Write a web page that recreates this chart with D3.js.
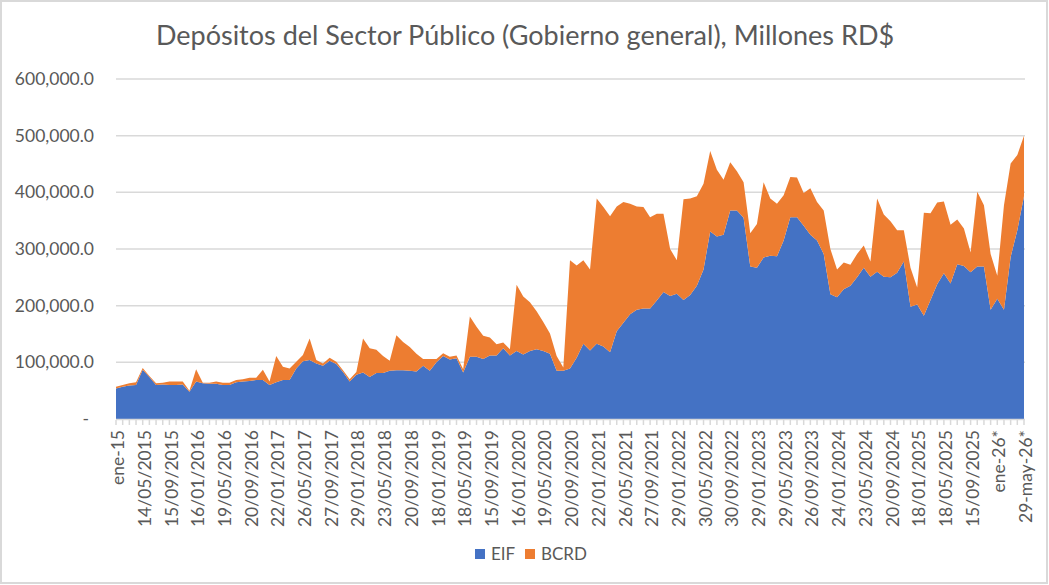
<!DOCTYPE html>
<html>
<head>
<meta charset="utf-8">
<script src="https://cdn.jsdelivr.net/npm/d3@7"></script>
<style>
  body { margin: 0; background: #fff; }
  text { font-family: Lato, "Open Sans", sans-serif; fill: #595959; }
</style>
</head>
<body>
<svg id="chart"></svg>
<script>
// Monthly series, ene-2015 .. may-2026 (values in thousands of millones RD$)
const eif = [
  54, 57, 59, 60, 87, 74, 60, 61, 60, 60, 61, 48, 66, 63, 62, 62, 60, 60, 65, 66,
  67, 69, 69, 60, 65, 69, 69, 89, 102, 104, 98, 94, 103, 97, 83, 66, 78, 82, 74, 81,
  81, 85, 86, 86, 85, 84, 94, 85, 100, 111, 105, 107, 82, 110, 110, 106, 112, 112, 125, 112,
  120, 114, 120, 123, 120, 115, 85, 85, 89, 108, 133, 121, 133, 128, 118, 155, 170, 185, 193, 195,
  195, 209, 224, 217, 221, 210, 219, 235, 264, 331, 322, 325, 368, 368, 355, 269, 267, 285, 288, 287,
  315, 356, 356, 341, 325, 315, 291, 220, 215, 229, 235, 250, 267, 251, 260, 251, 250, 258, 278, 198,
  202, 182, 210, 238, 257, 239, 273, 270, 259, 269, 269, 193, 212, 193, 286, 333, 393
];
const bcrd = [
  3, 3, 4, 5, 3, 2, 3, 3, 6, 6, 5, 2, 22, 1, 2, 4, 4, 4, 4, 4,
  6, 4, 18, 6, 46, 23, 20, 12, 11, 38, 6, 4, 5, 4, 3, 4, 5, 60, 51, 41,
  30, 18, 62, 50, 42, 31, 12, 21, 6, 5, 5, 5, 6, 71, 53, 41, 32, 20, 10, 11,
  117, 102, 86, 67, 51, 36, 26, 6, 191, 163, 147, 143, 256, 246, 240, 220, 213, 195, 182, 179,
  161, 153, 138, 83, 59, 178, 170, 158, 151, 142, 118, 97, 85, 69, 63, 59, 77, 133, 101, 93,
  80, 71, 70, 58, 82, 68, 77, 80, 49, 47, 37, 41, 39, 27, 129, 110, 99, 75, 55, 69,
  30, 182, 153, 144, 127, 104, 79, 66, 35, 132, 108, 98, 41, 184, 165, 133, 107
];
// one label every 4 months
const tickLabels = [
  "ene-15", "14/05/2015", "15/09/2015", "16/01/2016", "19/05/2016", "20/09/2016",
  "22/01/2017", "26/05/2017", "27/09/2017", "29/01/2018", "23/05/2018", "20/09/2018",
  "18/01/2019", "18/05/2019", "15/09/2019", "16/01/2020", "19/05/2020", "20/09/2020",
  "22/01/2021", "26/05/2021", "27/09/2021", "29/01/2022", "30/05/2022", "30/09/2022",
  "29/01/2023", "29/05/2023", "26/09/2023", "24/01/2024", "23/05/2024", "20/09/2024",
  "18/01/2025", "18/05/2025", "15/09/2025", "ene-26*", "29-may-26*"
];
const labelStep = 4;
const seriesNames = ["EIF", "BCRD"];
const colors = ["#4472C4", "#ED7D31"];
const yTicks = [0, 100, 200, 300, 400, 500, 600];

const svgWidth = 1049;
const svgHeight = 585;
const svg = d3.select("#chart")
  .attr("width", svgWidth)
  .attr("height", svgHeight);

// chart border
svg.append("rect")
  .attr("x", 1)
  .attr("y", 1)
  .attr("width", svgWidth - 3)
  .attr("height", svgHeight - 3)
  .attr("fill", "white")
  .attr("stroke", "#d9d9d9")
  .attr("stroke-width", 2);

const n = eif.length;
const x = d3.scaleLinear().domain([0, n - 1]).range([116, 1024]);
const y = d3.scaleLinear().domain([0, 600]).range([419, 79]);

// title
svg.append("text")
  .attr("x", 525)
  .attr("y", 45)
  .attr("text-anchor", "middle")
  .attr("font-size", 27)
  .text("Depósitos del Sector Público (Gobierno general), Millones RD$");

// gridlines + y labels
svg.selectAll(".grid")
  .data(yTicks.filter(d => d > 0))
  .enter()
  .append("line")
  .attr("class", "grid")
  .attr("x1", 116)
  .attr("x2", 1025)
  .attr("y1", d => y(d))
  .attr("y2", d => y(d))
  .attr("stroke", "#d9d9d9")
  .attr("stroke-width", 1.5);

svg.selectAll(".ylab")
  .data(yTicks)
  .enter()
  .append("text")
  .attr("class", "ylab")
  .attr("x", d => d === 0 ? 89 : 94)
  .attr("y", d => y(d))
  .attr("dy", "0.35em")
  .attr("text-anchor", "end")
  .attr("font-size", 17.5)
  .text(d => d === 0 ? "-" : d3.format(",.1f")(d * 1000));

// stacked areas
const rows = d3.range(n).map(i => ({ i: i, EIF: eif[i], BCRD: bcrd[i] }));
const stack = d3.stack().keys(seriesNames)(rows);
const area = d3.area()
  .x(d => x(d.data.i))
  .y0(d => y(d[0]))
  .y1(d => y(d[1]));

svg.selectAll(".layer")
  .data(stack)
  .enter()
  .append("path")
  .attr("class", "layer")
  .attr("d", area)
  .attr("fill", (d, i) => colors[i]);

// x axis line and category ticks
svg.append("line")
  .attr("x1", 116)
  .attr("x2", 1025)
  .attr("y1", 419.5)
  .attr("y2", 419.5)
  .attr("stroke", "#d9d9d9")
  .attr("stroke-width", 1.5);

svg.selectAll(".xtick")
  .data(d3.range(n))
  .enter()
  .append("line")
  .attr("class", "xtick")
  .attr("x1", d => x(d))
  .attr("x2", d => x(d))
  .attr("y1", 420)
  .attr("y2", 425)
  .attr("stroke", "#d9d9d9")
  .attr("stroke-width", 1.5);

svg.selectAll(".xlab")
  .data(tickLabels)
  .enter()
  .append("text")
  .attr("class", "xlab")
  .attr("transform", (d, i) => `translate(${x(i * labelStep) + 2}, 430) rotate(-90)`)
  .attr("dy", "0.35em")
  .attr("text-anchor", "end")
  .attr("font-size", 17.5)
  .text(d => d);

// legend
const legend = svg.selectAll(".legend")
  .data(seriesNames)
  .enter()
  .append("g")
  .attr("class", "legend")
  .attr("transform", (d, i) => `translate(${475 + i * 50}, 549)`);

legend.append("rect")
  .attr("width", 10)
  .attr("height", 10)
  .attr("fill", (d, i) => colors[i]);

legend.append("text")
  .attr("x", 16)
  .attr("y", 10.5)
  .attr("font-size", 17)
  .text(d => d);
</script>
</body>
</html>
